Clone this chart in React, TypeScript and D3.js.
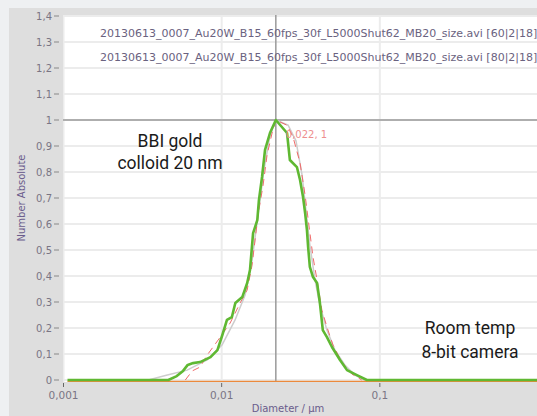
import React from "react";
import * as d3 from "d3";

const W = 537;
const H = 416;

const yTicks = [0, 0.1, 0.2, 0.3, 0.4, 0.5, 0.6, 0.7, 0.8, 0.9, 1, 1.1, 1.2, 1.3, 1.4];
const xTicks = [0.001, 0.01, 0.1, 1];
const xTickLabels = ["0,001", "0,01", "0,1", ""];

const legendLabels = [
  "20130613_0007_Au20W_B15_60fps_30f_L5000Shut62_MB20_size.avi [60|2|18]",
  "20130613_0007_Au20W_B15_60fps_30f_L5000Shut62_MB20_size.avi [80|2|18]",
];

// green (main) series: [diameter µm, number absolute]
const greenSeries: [number, number][] = [
  [0.00106, 0], [0.0046, 0], [0.0052, 0.015], [0.0057, 0.035], [0.0061, 0.058], [0.0066, 0.065],
  [0.0073, 0.069], [0.0085, 0.088], [0.0094, 0.115], [0.0101, 0.173], [0.0108, 0.231],
  [0.0116, 0.242], [0.0122, 0.296], [0.0135, 0.319], [0.0145, 0.373], [0.0151, 0.423],
  [0.0158, 0.565], [0.0168, 0.615], [0.0172, 0.692], [0.018, 0.781], [0.0188, 0.885],
  [0.0202, 0.95], [0.022, 1.0], [0.0259, 0.95], [0.027, 0.846], [0.0299, 0.819],
  [0.0313, 0.769], [0.0327, 0.704], [0.0337, 0.642], [0.0346, 0.577], [0.0352, 0.512],
  [0.0361, 0.435], [0.0378, 0.396], [0.0401, 0.373], [0.0418, 0.296], [0.0436, 0.192],
  [0.0463, 0.165], [0.0498, 0.127], [0.056, 0.077], [0.062, 0.038], [0.0716, 0.019],
  [0.0828, 0], [1.0, 0],
];

// red dashed series
const redSeries: [number, number][] = [
  [0.00589, 0], [0.00652, 0.035], [0.00731, 0.05], [0.0081, 0.096], [0.00951, 0.154],
  [0.01131, 0.219], [0.01308, 0.296], [0.01449, 0.346], [0.01557, 0.442], [0.01698, 0.635],
  [0.01828, 0.75], [0.01936, 0.865], [0.02083, 0.95], [0.022, 1.0], [0.0259, 0.98],
  [0.02825, 0.935], [0.0313, 0.835], [0.0337, 0.71], [0.0356, 0.596], [0.0378, 0.473],
  [0.0406, 0.365], [0.043, 0.269], [0.0463, 0.204], [0.0505, 0.135], [0.0575, 0.069],
  [0.0665, 0.023], [0.0769, 0],
];

// light grey series
const greySeries: [number, number][] = [
  [0.00344, 0], [0.00453, 0.019], [0.00605, 0.038], [0.0081, 0.077], [0.01007, 0.135],
  [0.01216, 0.231], [0.01406, 0.327], [0.01557, 0.46], [0.01698, 0.635], [0.01854, 0.81],
  [0.0202, 0.94], [0.022, 1.0], [0.0263, 0.98], [0.0295, 0.92], [0.0322, 0.79],
  [0.0341, 0.654], [0.0361, 0.52], [0.0389, 0.385], [0.0418, 0.288], [0.0463, 0.192],
  [0.052, 0.115], [0.0601, 0.058], [0.0695, 0.019], [0.0803, 0],
];

const peak: [number, number] = [0.022, 1];
const peakLabel = "0,022, 1";

const textA = ["BBI gold", "colloid 20 nm"];
const textB = ["Room temp", "8-bit camera"];

export default function App() {
  const plotL = 63;
  const plotT = 15;
  const plotB = 382;
  const x = d3.scaleLog().domain([0.001, 1]).range([63.5, 538]);
  const y = d3.scaleLinear().domain([0, 1.4]).range([380, 16]);
  const line = d3
    .line<[number, number]>()
    .x((d) => x(d[0]))
    .y((d) => y(d[1]));

  const tickColor = "#7a7584";
  const font = "DejaVu Sans, Verdana, sans-serif";
  const annFont = "Roboto, 'Open Sans', sans-serif";

  return (
    <svg
      width={W}
      height={H}
      style={{ position: "absolute", left: 0, top: 0 }}
      xmlns="http://www.w3.org/2000/svg"
    >
      <defs>
        <clipPath id="plotClip">
          <rect x={plotL} y={plotT} width={W - plotL} height={plotB - plotT} />
        </clipPath>
      </defs>
      <rect x={0} y={0} width={W} height={H} fill="#eef0f2" />
      <rect x={9} y={8} width={W - 9} height={H - 8} fill="#dedede" />
      <rect x={plotL} y={plotT} width={W - plotL} height={plotB - plotT} fill="#ffffff" />

      <g clipPath="url(#plotClip)">
        {yTicks.map((t) => (
          <line
            key={"gy" + t}
            x1={plotL}
            x2={W}
            y1={y(t)}
            y2={y(t)}
            stroke="#ececec"
            strokeWidth={2}
          />
        ))}
        {xTicks.map((t) => (
          <line
            key={"gx" + t}
            x1={x(t)}
            x2={x(t)}
            y1={plotT}
            y2={plotB}
            stroke="#ececec"
            strokeWidth={2}
          />
        ))}
        {/* crosshair */}
        <line x1={plotL} x2={W} y1={y(peak[1])} y2={y(peak[1])} stroke="#9a9a9a" strokeWidth={1.5} />
        <line x1={x(peak[0])} x2={x(peak[0])} y1={plotT} y2={plotB} stroke="#9a9a9a" strokeWidth={1.5} />

        <path d={line(greySeries) || ""} fill="none" stroke="#cdcdcd" strokeWidth={1.5} />
        <path
          d={line([[0.00106, 0], [1, 0]]) || ""}
          fill="none"
          stroke="#ec8a3c"
          strokeWidth={1.5}
          transform="translate(0,1.6)"
        />
        <path
          d={line(redSeries) || ""}
          fill="none"
          stroke="#f06a6a"
          strokeWidth={1}
          strokeDasharray="7,5"
        />
        <path
          d={line(greenSeries) || ""}
          fill="none"
          stroke="#5fb832"
          strokeWidth={2.6}
          strokeLinejoin="round"
        />
        <text
          x={x(peak[0]) + 10}
          y={y(peak[1]) + 18}
          fontFamily={font}
          fontSize={10}
          fill="#ee8f8f"
        >
          {peakLabel}
        </text>
        {legendLabels.map((s, i) => (
          <text
            key={s + i}
            x={100}
            y={37 + i * 24}
            fontFamily={font}
            fontSize={11}
            fill="#6a6280"
          >
            {s}
          </text>
        ))}
      </g>

      {/* y ticks */}
      {yTicks.map((t) => (
        <g key={"ty" + t}>
          <text
            x={52}
            y={y(t) + 3.5}
            textAnchor="end"
            fontFamily={font}
            fontSize={10}
            fill={tickColor}
          >
            {String(t).replace(".", ",")}
          </text>
          <line x1={54} x2={59} y1={y(t)} y2={y(t)} stroke="#888" strokeWidth={1} />
        </g>
      ))}
      {/* x ticks */}
      {xTicks.map((t, i) => (
        <g key={"tx" + t}>
          <line x1={x(t)} x2={x(t)} y1={plotB + 1} y2={plotB + 5} stroke="#666" strokeWidth={1} />
          {xTickLabels[i] ? (
            <text
              x={x(t)}
              y={plotB + 17}
              textAnchor="middle"
              fontFamily={font}
              fontSize={10.5}
              fill={tickColor}
            >
              {xTickLabels[i]}
            </text>
          ) : null}
        </g>
      ))}

      <text
        transform={`translate(25,198) rotate(-90)`}
        textAnchor="middle"
        fontFamily={font}
        fontSize={10}
        fill="#6a5c8c"
      >
        Number Absolute
      </text>
      <text
        x={288}
        y={412}
        textAnchor="middle"
        fontFamily={font}
        fontSize={10}
        fill="#6a5c8c"
      >
        Diameter / µm
      </text>

      {textA.map((s, i) => (
        <text
          key={s}
          x={170}
          y={147 + i * 22}
          textAnchor="middle"
          fontFamily={annFont}
          fontSize={17.5}
          fill="#1a1a1a"
        >
          {s}
        </text>
      ))}
      {textB.map((s, i) => (
        <text
          key={s}
          x={470}
          y={334 + i * 24}
          textAnchor="middle"
          fontFamily={annFont}
          fontSize={17.5}
          fill="#1a1a1a"
        >
          {s}
        </text>
      ))}
    </svg>
  );
}
